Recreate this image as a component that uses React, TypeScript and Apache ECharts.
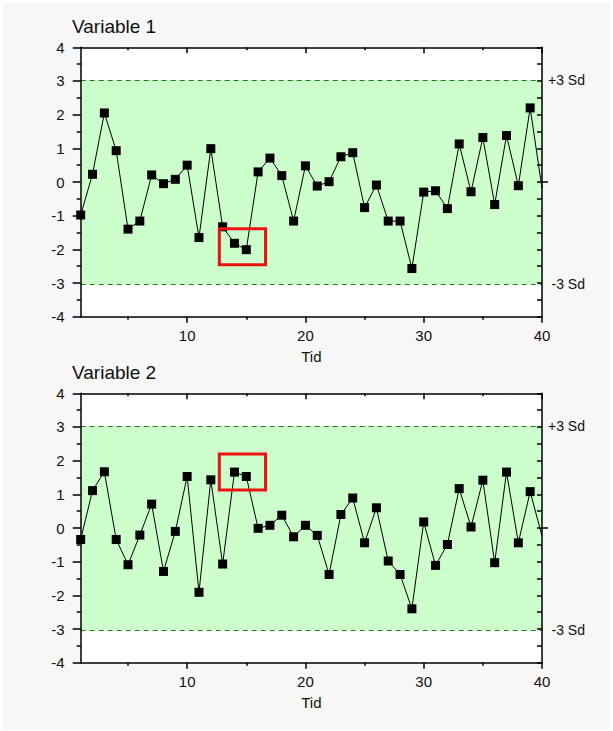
import React, { useEffect, useRef } from "react";
import * as echarts from "echarts";

const titles = ["Variable 1", "Variable 2"];
const xTickMajor = [10, 20, 30, 40];
const xTickMinor = [5, 15, 25, 35];
const yTickMinor = [-3.5, -2.5, -1.5, -0.5, 0.5, 1.5, 2.5, 3.5];
const sdLimit = 3.03;
const sdLabels = ["+3 Sd", "-3 Sd"];

const var1 = [
  -0.98, 0.23, 2.05, 0.93, -1.4, -1.16, 0.21, -0.05, 0.08, 0.5,
  -1.65, 0.99, -1.33, -1.82, -2.01, 0.3, 0.71, 0.19, -1.16, 0.48,
  -0.12, 0.01, 0.75, 0.87, -0.76, -0.09, -1.16, -1.16, -2.57, -0.3,
  -0.26, -0.79, 1.13, -0.29, 1.32, -0.67, 1.38, -0.11, 2.2,
];
const var1End = -0.19;

const var2 = [
  -0.34, 1.11, 1.67, -0.34, -1.09, -0.21, 0.71, -1.29, -0.1, 1.53,
  -1.91, 1.43, -1.07, 1.66, 1.53, -0.01, 0.08, 0.38, -0.26, 0.08,
  -0.22, -1.38, 0.4, 0.89, -0.44, 0.6, -0.98, -1.38, -2.4, 0.18,
  -1.11, -0.49, 1.17, 0.03, 1.42, -1.03, 1.66, -0.44, 1.08,
];
const var2End = -0.24;

// [x1, y1, x2, y2] in data units
const box1 = [12.72, -1.39, 16.63, -2.46];
const box2 = [12.72, 2.2, 16.63, 1.13];

const FONT = "'Liberation Sans', Arial, sans-serif";
const TXT = "#111";
const AXW = 1.5;

function buildOption() {
  const gridTops = [44.3, 390.3];
  const grids = gridTops.map((t) => ({
    left: 77.7,
    top: t,
    width: 461.3,
    height: 269.4,
    show: true,
    backgroundColor: "#ffffff",
    borderWidth: 0,
  }));

  const line = { show: true, onZero: false, lineStyle: { color: "#000", width: AXW } };
  const noLine = { show: false, onZero: false };
  const tickStyle = { color: "#000", width: AXW };

  const xAxes: any[] = [];
  const yAxes: any[] = [];
  [0, 1].forEach((g) => {
    const baseX = {
      type: "value",
      gridIndex: g,
      min: 1,
      max: 40,
      splitLine: { show: false },
      z: 10,
    };
    xAxes.push({
      ...baseX,
      position: "bottom",
      name: "Tid",
      nameLocation: "middle",
      nameGap: 32,
      nameTextStyle: { color: TXT, fontSize: 15, fontFamily: FONT },
      axisLine: line,
      axisTick: { show: true, length: 6, customValues: xTickMajor, lineStyle: tickStyle },
      axisLabel: { show: true, customValues: xTickMajor, margin: 11, color: TXT, fontSize: 15, fontFamily: FONT },
    });
    xAxes.push({
      ...baseX,
      position: "bottom",
      axisLine: noLine,
      axisTick: { show: true, length: 3, customValues: xTickMinor, lineStyle: tickStyle },
      axisLabel: { show: false },
    });
    xAxes.push({
      ...baseX,
      position: "top",
      axisLine: line,
      axisTick: { show: true, inside: true, length: 6, customValues: xTickMajor, lineStyle: tickStyle },
      axisLabel: { show: false },
    });
    xAxes.push({
      ...baseX,
      position: "top",
      axisLine: noLine,
      axisTick: { show: true, inside: true, length: 3, customValues: xTickMinor, lineStyle: tickStyle },
      axisLabel: { show: false },
    });

    const baseY = {
      type: "value",
      gridIndex: g,
      min: -4,
      max: 4,
      interval: 1,
      splitLine: { show: false },
      z: 10,
    };
    yAxes.push({
      ...baseY,
      position: "left",
      axisLine: line,
      axisTick: { show: true, length: 8, lineStyle: tickStyle },
      axisLabel: {
        show: true,
        margin: 16,
        color: TXT,
        fontSize: 15,
        fontFamily: FONT,
      },
    });
    yAxes.push({
      ...baseY,
      position: "left",
      axisLine: noLine,
      axisTick: { show: true, length: 4, customValues: yTickMinor, lineStyle: tickStyle },
      axisLabel: { show: false },
    });
    yAxes.push({
      ...baseY,
      interval: 0.5,
      position: "right",
      axisLine: line,
      axisTick: { show: true, inside: true, length: 5, lineStyle: tickStyle },
      axisLabel: { show: false },
    });
    yAxes.push({
      ...baseY,
      position: "right",
      axisLine: noLine,
      axisTick: { show: true, length: 6, customValues: [0], lineStyle: tickStyle },
      axisLabel: {
        show: true,
        customValues: [sdLimit, -sdLimit],
        align: "right",
        margin: 43,
        color: TXT,
        fontSize: 14,
        fontFamily: FONT,
        formatter: (v: number) => (v > 0 ? sdLabels[0] : sdLabels[1]),
      },
    });
  });

  const series: any[] = [];
  const datasets = [
    { vals: var1, end: var1End, box: box1 },
    { vals: var2, end: var2End, box: box2 },
  ];
  datasets.forEach((d, g) => {
    const data: any[] = d.vals.map((v, i) => [i + 1, v]);
    data.push({ value: [40, d.end], symbol: "none" });
    series.push({
      type: "line",
      xAxisIndex: g * 4,
      yAxisIndex: g * 4,
      data,
      symbol: "rect",
      symbolSize: 9,
      clip: false,
      lineStyle: { color: "#000", width: 1 },
      itemStyle: { color: "#000" },
      z: 3,
      markArea: {
        silent: true,
        z: 1,
        itemStyle: { color: "#ccffcc" },
        data: [[{ yAxis: -sdLimit }, { yAxis: sdLimit }]],
      },
      markLine: {
        silent: true,
        symbol: "none",
        label: { show: false },
        lineStyle: { color: "#1a801a", type: [5, 4], width: 1 },
        data: [{ yAxis: sdLimit }, { yAxis: -sdLimit }],
      },
    });
    series.push({
      type: "line",
      xAxisIndex: g * 4,
      yAxisIndex: g * 4,
      data: [],
      z: 6,
      markArea: {
        silent: true,
        z: 6,
        itemStyle: { color: "rgba(0,0,0,0)", borderColor: "#ee1111", borderWidth: 3 },
        data: [[{ coord: [d.box[0], d.box[1]] }, { coord: [d.box[2], d.box[3]] }]],
      },
    });
  });

  return {
    animation: false,
    backgroundColor: "#f7f7f7",
    title: [
      { text: titles[0], left: 69, top: 13.5, padding: 0, textStyle: { color: TXT, fontSize: 19, fontWeight: "normal", fontFamily: FONT } },
      { text: titles[1], left: 69, top: 360, padding: 0, textStyle: { color: TXT, fontSize: 19, fontWeight: "normal", fontFamily: FONT } },
    ],
    grid: grids,
    xAxis: xAxes,
    yAxis: yAxes,
    series,
  };
}

export default function App() {
  const ref = useRef<HTMLDivElement>(null);
  useEffect(() => {
    document.body.style.margin = "0";
    if (!ref.current) return;
    const chart = echarts.init(ref.current, undefined, { renderer: "svg" });
    chart.setOption(buildOption() as any);
    return () => chart.dispose();
  }, []);
  return (
    <div style={{ width: 613, height: 731, background: "#ffffff", position: "relative" }}>
      <div ref={ref} style={{ position: "absolute", left: 3, top: 3, width: 607, height: 726 }} />
    </div>
  );
}
